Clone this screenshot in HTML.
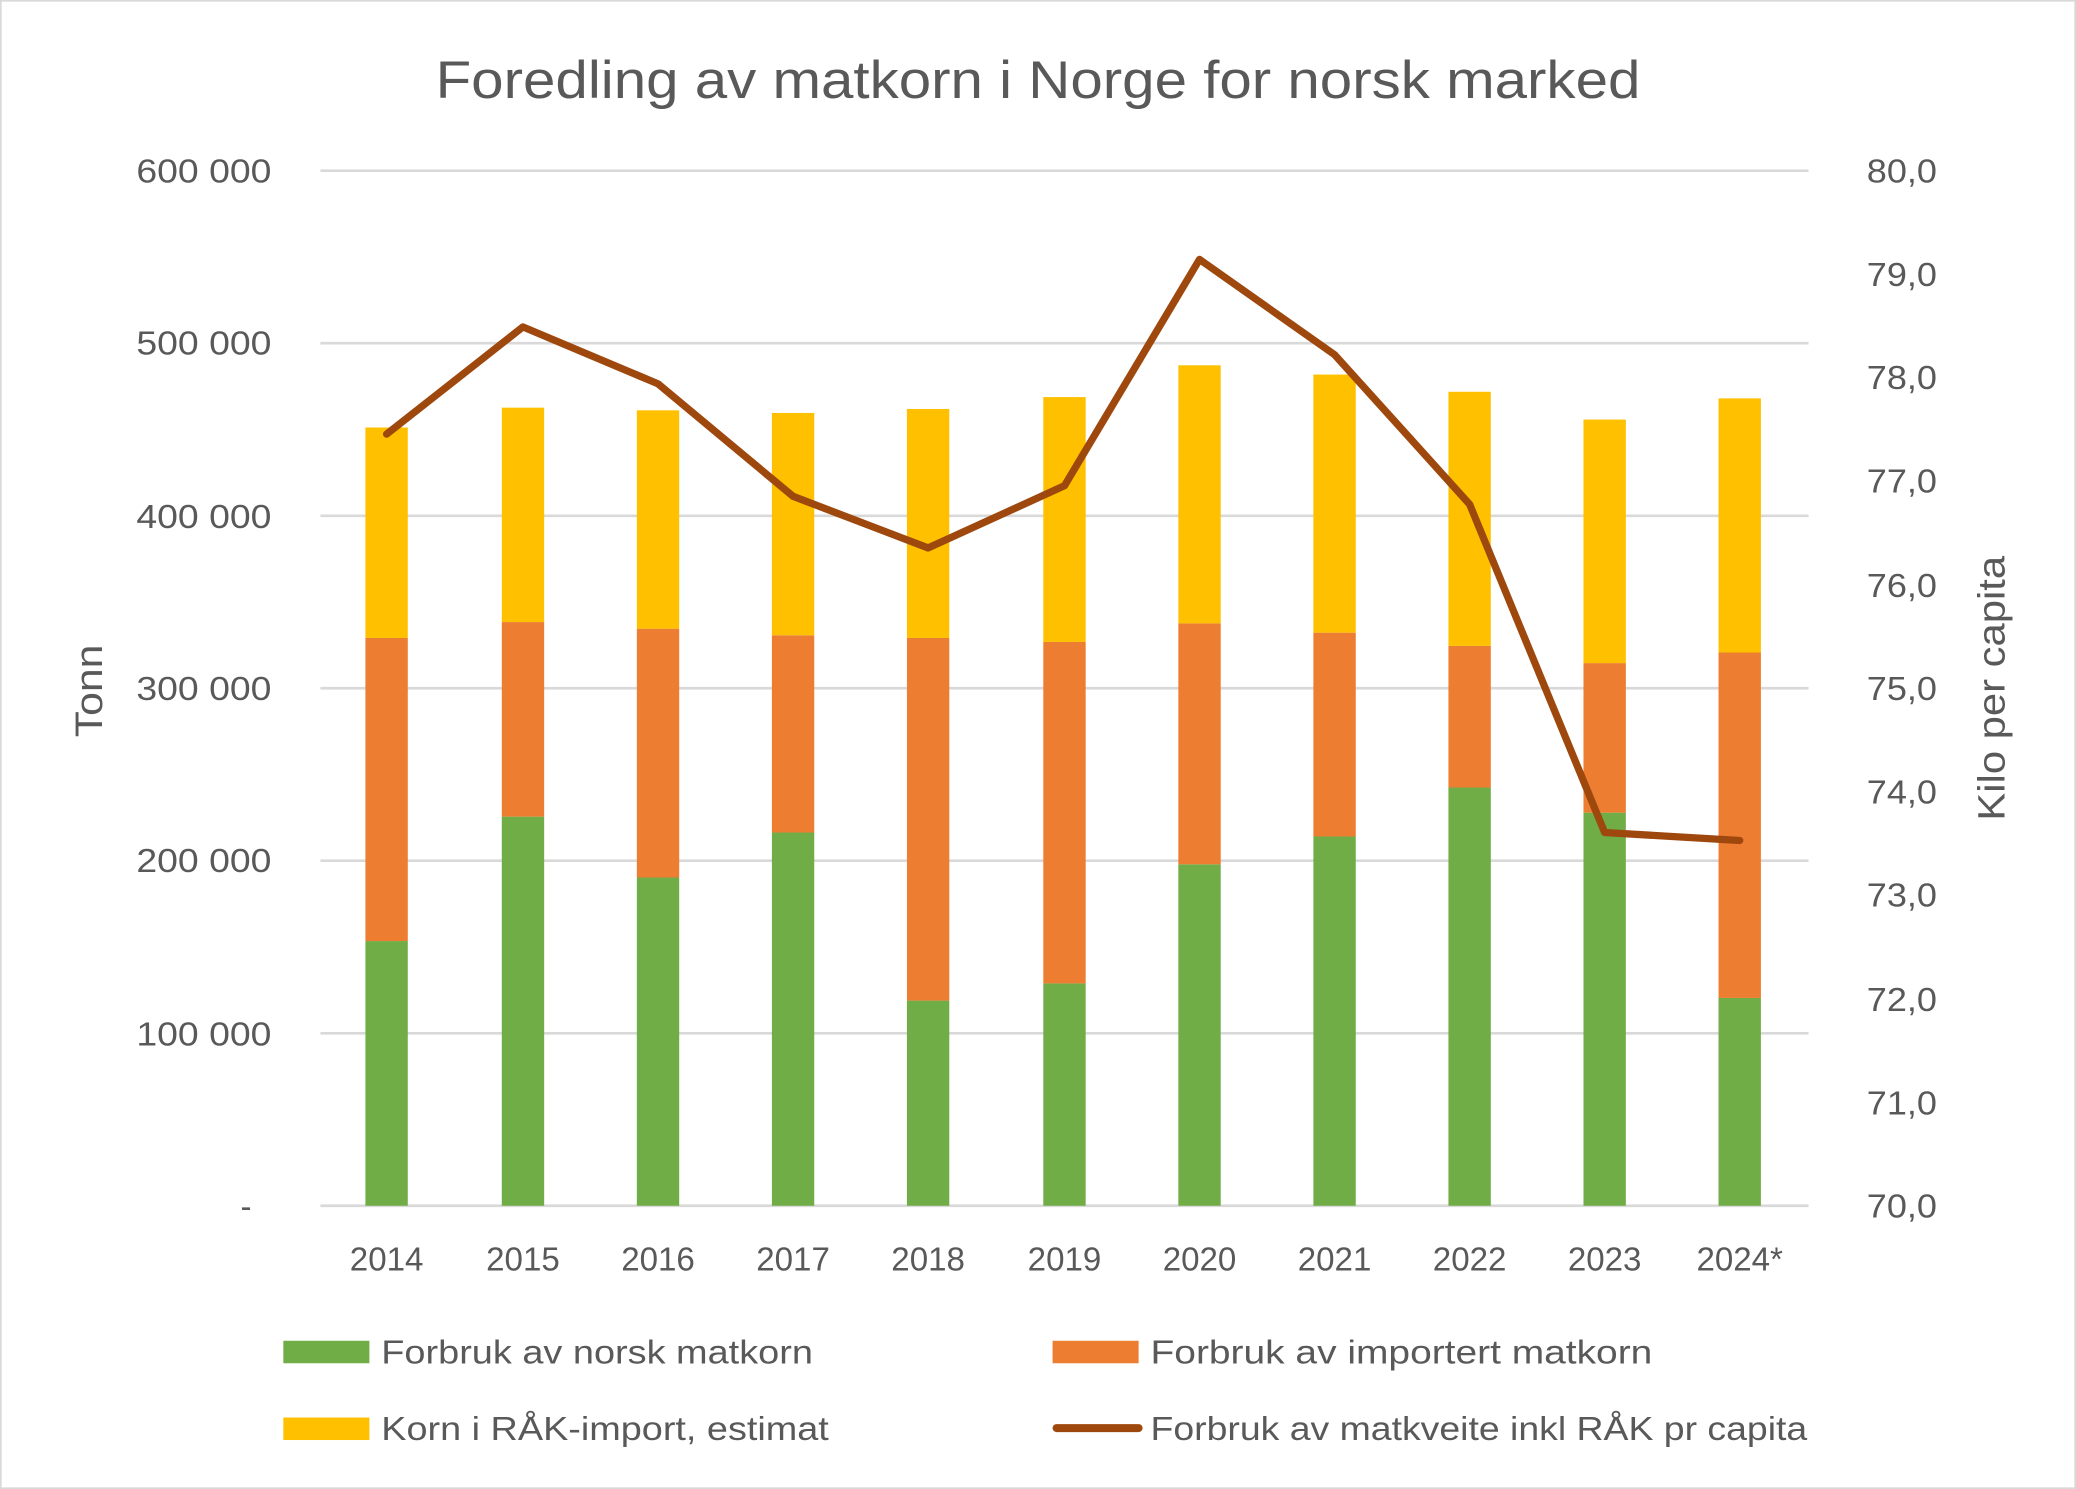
<!DOCTYPE html>
<html><head><meta charset="utf-8"><style>
html,body{margin:0;padding:0;background:#fff;}
svg{display:block;}
text{font-family:"Liberation Sans",sans-serif;fill:#595959;}
</style></head><body>
<svg width="2076" height="1489" viewBox="0 0 1568 1125" preserveAspectRatio="none">
<rect x="0.5" y="0.5" width="1567" height="1124" fill="#fff" stroke="#d9d9d9" stroke-width="1.5"/>
<text x="784" y="74" font-size="40" text-anchor="middle" textLength="910" lengthAdjust="spacingAndGlyphs">Foredling av matkorn i Norge for norsk marked</text>
<g stroke="#d9d9d9" stroke-width="2">
<line x1="242" x2="1366" y1="129" y2="129"/><line x1="242" x2="1366" y1="259.3" y2="259.3"/>
<line x1="242" x2="1366" y1="389.7" y2="389.7"/><line x1="242" x2="1366" y1="520" y2="520"/>
<line x1="242" x2="1366" y1="650.3" y2="650.3"/><line x1="242" x2="1366" y1="780.7" y2="780.7"/>
<line x1="242" x2="1366" y1="911" y2="911"/>
</g>
<g font-size="25" text-anchor="end">
<text x="205" y="138" textLength="102" lengthAdjust="spacingAndGlyphs">600 000</text>
<text x="205" y="268" textLength="102" lengthAdjust="spacingAndGlyphs">500 000</text>
<text x="205" y="399" textLength="102" lengthAdjust="spacingAndGlyphs">400 000</text>
<text x="205" y="529" textLength="102" lengthAdjust="spacingAndGlyphs">300 000</text>
<text x="205" y="659" textLength="102" lengthAdjust="spacingAndGlyphs">200 000</text>
<text x="205" y="790" textLength="102" lengthAdjust="spacingAndGlyphs">100 000</text>
<text x="190" y="920">-</text>
</g>
<g font-size="25">
<text x="1410" y="138" textLength="53" lengthAdjust="spacingAndGlyphs">80,0</text>
<text x="1410" y="216" textLength="53" lengthAdjust="spacingAndGlyphs">79,0</text>
<text x="1410" y="294" textLength="53" lengthAdjust="spacingAndGlyphs">78,0</text>
<text x="1410" y="372" textLength="53" lengthAdjust="spacingAndGlyphs">77,0</text>
<text x="1410" y="451" textLength="53" lengthAdjust="spacingAndGlyphs">76,0</text>
<text x="1410" y="529" textLength="53" lengthAdjust="spacingAndGlyphs">75,0</text>
<text x="1410" y="607" textLength="53" lengthAdjust="spacingAndGlyphs">74,0</text>
<text x="1410" y="685" textLength="53" lengthAdjust="spacingAndGlyphs">73,0</text>
<text x="1410" y="764" textLength="53" lengthAdjust="spacingAndGlyphs">72,0</text>
<text x="1410" y="842" textLength="53" lengthAdjust="spacingAndGlyphs">71,0</text>
<text x="1410" y="920" textLength="53" lengthAdjust="spacingAndGlyphs">70,0</text>
</g>
<text transform="translate(77,522) rotate(-90)" font-size="29" text-anchor="middle" textLength="70" lengthAdjust="spacingAndGlyphs">Tonn</text>
<text transform="translate(1514,520) rotate(-90)" font-size="29" text-anchor="middle" textLength="200" lengthAdjust="spacingAndGlyphs">Kilo per capita</text>
<g>
<rect x="276" y="711" width="32" height="200" fill="#70ad47"/><rect x="276" y="482" width="32" height="229" fill="#ed7d31"/><rect x="276" y="323" width="32" height="159" fill="#ffc000"/>
<rect x="379" y="617" width="32" height="294" fill="#70ad47"/><rect x="379" y="470" width="32" height="147" fill="#ed7d31"/><rect x="379" y="308" width="32" height="162" fill="#ffc000"/>
<rect x="481" y="663" width="32" height="248" fill="#70ad47"/><rect x="481" y="475" width="32" height="188" fill="#ed7d31"/><rect x="481" y="310" width="32" height="165" fill="#ffc000"/>
<rect x="583" y="629" width="32" height="282" fill="#70ad47"/><rect x="583" y="480" width="32" height="149" fill="#ed7d31"/><rect x="583" y="312" width="32" height="168" fill="#ffc000"/>
<rect x="685" y="756" width="32" height="155" fill="#70ad47"/><rect x="685" y="482" width="32" height="274" fill="#ed7d31"/><rect x="685" y="309" width="32" height="173" fill="#ffc000"/>
<rect x="788" y="743" width="32" height="168" fill="#70ad47"/><rect x="788" y="485" width="32" height="258" fill="#ed7d31"/><rect x="788" y="300" width="32" height="185" fill="#ffc000"/>
<rect x="890" y="653" width="32" height="258" fill="#70ad47"/><rect x="890" y="471" width="32" height="182" fill="#ed7d31"/><rect x="890" y="276" width="32" height="195" fill="#ffc000"/>
<rect x="992" y="632" width="32" height="279" fill="#70ad47"/><rect x="992" y="478" width="32" height="154" fill="#ed7d31"/><rect x="992" y="283" width="32" height="195" fill="#ffc000"/>
<rect x="1094" y="595" width="32" height="316" fill="#70ad47"/><rect x="1094" y="488" width="32" height="107" fill="#ed7d31"/><rect x="1094" y="296" width="32" height="192" fill="#ffc000"/>
<rect x="1196" y="614" width="32" height="297" fill="#70ad47"/><rect x="1196" y="501" width="32" height="113" fill="#ed7d31"/><rect x="1196" y="317" width="32" height="184" fill="#ffc000"/>
<rect x="1298" y="754" width="32" height="157" fill="#70ad47"/><rect x="1298" y="493" width="32" height="261" fill="#ed7d31"/><rect x="1298" y="301" width="32" height="192" fill="#ffc000"/>
</g>
<polyline points="292,328 395,247 497,290 599,375 701,414 804,367 906,196 1008,268 1110,381 1212,629 1314,635" fill="none" stroke="#9e480e" stroke-width="5.5" stroke-linejoin="round" stroke-linecap="round"/>
<g font-size="25" text-anchor="middle">
<text x="292" y="960">2014</text><text x="395" y="960">2015</text><text x="497" y="960">2016</text>
<text x="599" y="960">2017</text><text x="701" y="960">2018</text><text x="804" y="960">2019</text>
<text x="906" y="960">2020</text><text x="1008" y="960">2021</text><text x="1110" y="960">2022</text>
<text x="1212" y="960">2023</text><text x="1314" y="960">2024*</text>
</g>
<rect x="214" y="1013" width="65" height="17" fill="#70ad47"/>
<rect x="795" y="1013" width="65" height="17" fill="#ed7d31"/>
<rect x="214" y="1071" width="65" height="17" fill="#ffc000"/>
<line x1="798" x2="860" y1="1079" y2="1079" stroke="#9e480e" stroke-width="6" stroke-linecap="round"/>
<g font-size="25">
<text x="288" y="1030" textLength="326" lengthAdjust="spacingAndGlyphs">Forbruk av norsk matkorn</text>
<text x="869" y="1030" textLength="379" lengthAdjust="spacingAndGlyphs">Forbruk av importert matkorn</text>
<text x="288" y="1088" textLength="338" lengthAdjust="spacingAndGlyphs">Korn i RÅK-import, estimat</text>
<text x="869" y="1088" textLength="496" lengthAdjust="spacingAndGlyphs">Forbruk av matkveite inkl RÅK pr capita</text>
</g>
</svg>
</body></html>
